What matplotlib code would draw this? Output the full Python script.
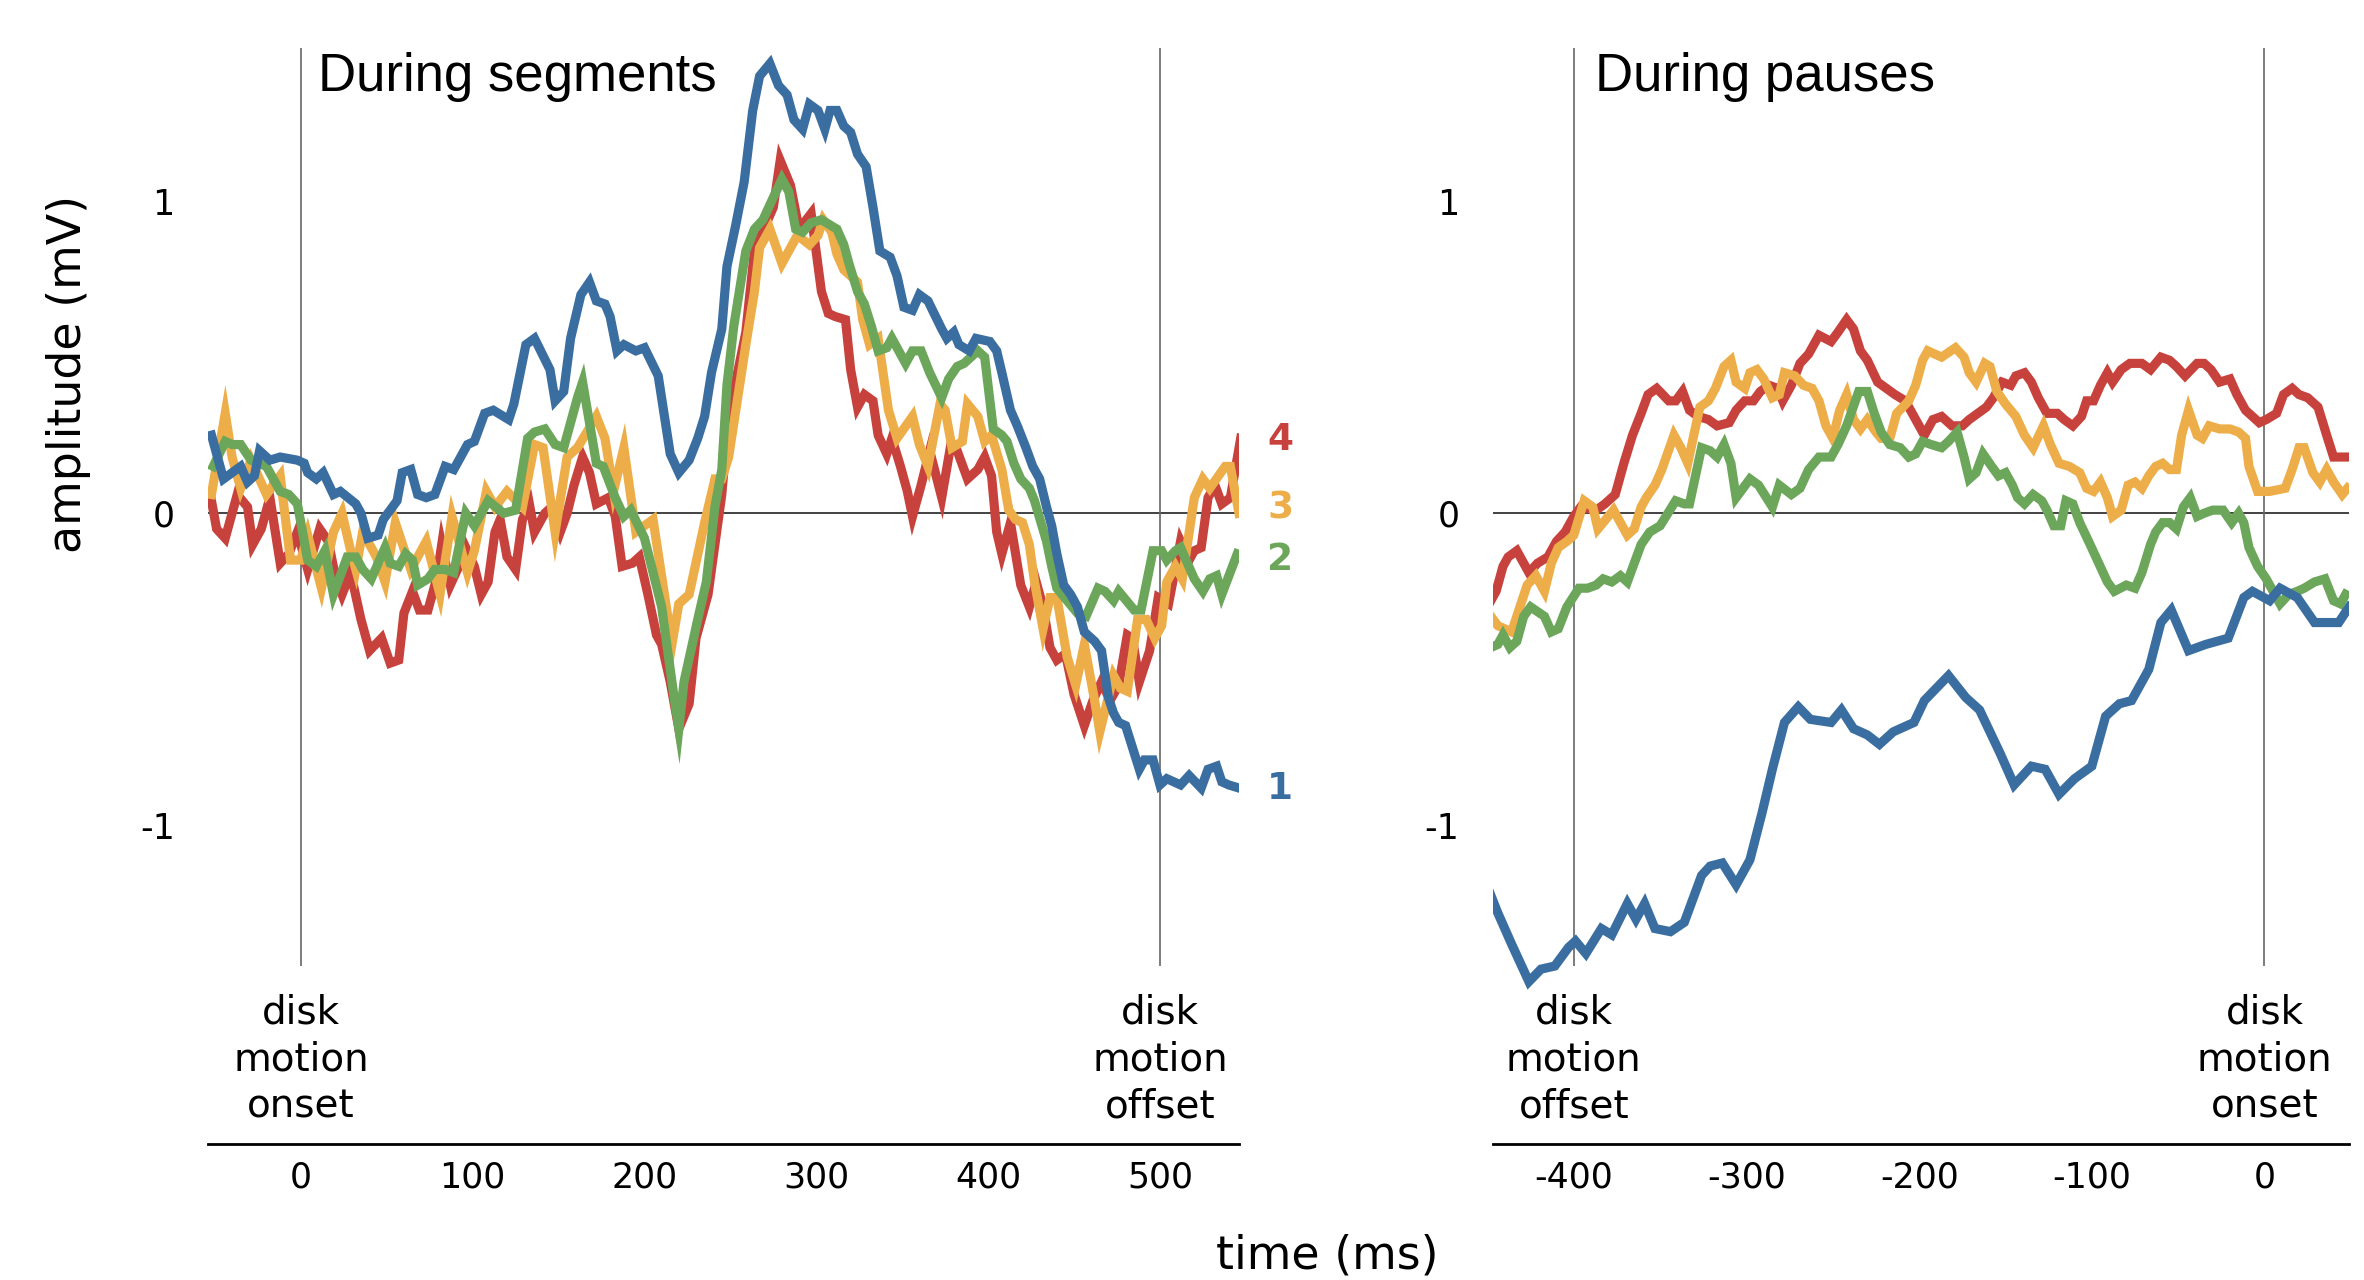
import matplotlib
matplotlib.use("Agg")
import matplotlib.pyplot as plt

plt.rcParams["font.family"] = "DejaVu Sans"

# colours of the four conditions (1 = blue ... 4 = red)
c_blue = "#3B6EA0"
c_green = "#6BA65A"
c_yellow = "#EDAE49"
c_red = "#C8423D"

# ---- During segments (time relative to disk motion onset, ms / mV) ----
seg1_t = [-52, -45, -35, -31, -27, -24, -18, -12, -2, 2, 4, 9, 13, 19, 23, 32, 35, 39, 45, 48,
          56, 59, 64, 68, 73, 78, 84, 89, 97, 101, 107, 112, 121, 124, 131, 136, 145, 148, 153, 157,
          163, 168, 172, 177, 180, 184, 188, 195, 200, 208, 215, 220, 226, 231, 235, 239, 245, 248, 253, 258,
          263, 267, 273, 278, 283, 287, 292, 296, 301, 305, 308, 312, 316, 320, 324, 329, 333, 337, 340, 343,
          347, 351, 356, 360, 365, 373, 376, 380, 383, 389, 393, 401, 405, 408, 413, 417, 422, 426, 430, 434,
          437, 440, 444, 448, 452, 456, 462, 466, 470, 473, 476, 480, 484, 488, 491, 496, 500, 504, 512, 517,
          524, 528, 533, 536, 540, 546]
seg1_v = [0.25, 0.11, 0.15, 0.10, 0.12, 0.20, 0.17, 0.18, 0.17, 0.16, 0.13, 0.11, 0.13, 0.06, 0.07, 0.03, 0.00, -0.08, -0.07, -0.02,
          0.04, 0.13, 0.14, 0.06, 0.05, 0.06, 0.15, 0.14, 0.22, 0.23, 0.32, 0.33, 0.30, 0.35, 0.54, 0.56, 0.46, 0.36, 0.39, 0.56,
          0.70, 0.74, 0.68, 0.67, 0.63, 0.52, 0.54, 0.52, 0.53, 0.44, 0.19, 0.13, 0.17, 0.24, 0.31, 0.45, 0.59, 0.79, 0.92, 1.06,
          1.29, 1.40, 1.44, 1.37, 1.34, 1.26, 1.23, 1.31, 1.29, 1.23, 1.29, 1.29, 1.24, 1.22, 1.15, 1.11, 0.98, 0.84, 0.83, 0.82,
          0.76, 0.66, 0.65, 0.70, 0.68, 0.59, 0.56, 0.58, 0.54, 0.52, 0.56, 0.55, 0.52, 0.45, 0.33, 0.28, 0.21, 0.15, 0.11, 0.02,
          -0.04, -0.13, -0.23, -0.26, -0.30, -0.38, -0.41, -0.44, -0.59, -0.64, -0.67, -0.68, -0.75, -0.82, -0.79, -0.79, -0.87, -0.85, -0.87, -0.84,
          -0.88, -0.82, -0.81, -0.86, -0.87, -0.88]

seg2_t = [-51, -44, -40, -35, -29, -20, -12, -7, -2, 1, 4, 9, 14, 19, 27, 32, 36, 41, 49, 52,
          57, 61, 65, 68, 74, 78, 84, 89, 96, 101, 109, 118, 125, 132, 136, 142, 148, 153, 161, 164,
          172, 176, 183, 188, 192, 200, 210, 217, 220, 223, 231, 236, 241, 245, 248, 252, 259, 264, 269, 274,
          280, 284, 288, 292, 297, 303, 312, 316, 319, 324, 328, 332, 336, 341, 344, 348, 352, 356, 361, 366,
          373, 377, 382, 386, 390, 394, 398, 403, 408, 411, 415, 419, 424, 427, 434, 437, 440, 446, 452, 457,
          464, 468, 473, 476, 485, 489, 496, 501, 504, 509, 512, 520, 525, 529, 533, 536, 545]
seg2_v = [0.15, 0.23, 0.22, 0.22, 0.17, 0.15, 0.07, 0.06, 0.03, -0.06, -0.15, -0.17, -0.12, -0.26, -0.14, -0.14, -0.18, -0.21, -0.11, -0.16,
          -0.17, -0.13, -0.15, -0.23, -0.21, -0.18, -0.18, -0.19, 0.00, -0.04, 0.04, 0.00, 0.01, 0.24, 0.26, 0.27, 0.22, 0.21, 0.37, 0.42,
          0.16, 0.15, 0.05, -0.01, 0.01, -0.08, -0.30, -0.58, -0.69, -0.54, -0.34, -0.22, 0.02, 0.14, 0.41, 0.60, 0.84, 0.91, 0.94, 1.00,
          1.07, 1.03, 0.91, 0.90, 0.93, 0.94, 0.91, 0.86, 0.80, 0.71, 0.67, 0.60, 0.52, 0.53, 0.56, 0.52, 0.48, 0.52, 0.52, 0.45,
          0.37, 0.43, 0.47, 0.48, 0.50, 0.52, 0.50, 0.27, 0.25, 0.23, 0.16, 0.11, 0.08, 0.04, -0.09, -0.17, -0.24, -0.28, -0.32, -0.33,
          -0.24, -0.25, -0.28, -0.25, -0.31, -0.31, -0.12, -0.12, -0.15, -0.12, -0.11, -0.21, -0.25, -0.21, -0.20, -0.26, -0.13]

seg3_t = [-52, -44, -40, -35, -29, -20, -12, -6, 0, 4, 12, 19, 24, 29, 32, 36, 44, 49, 55, 64,
          73, 81, 88, 97, 101, 108, 113, 120, 129, 136, 141, 148, 155, 161, 172, 177, 182, 188, 195, 205,
          216, 220, 226, 235, 241, 245, 249, 259, 264, 267, 273, 280, 289, 296, 301, 304, 309, 312, 316, 324,
          327, 331, 336, 342, 347, 356, 360, 365, 372, 375, 379, 385, 388, 394, 398, 402, 408, 412, 416, 420,
          424, 427, 432, 436, 440, 446, 451, 456, 462, 465, 473, 477, 481, 487, 492, 497, 501, 504, 509, 513,
          520, 525, 529, 538, 541, 546]
seg3_v = [0.06, 0.32, 0.18, 0.08, 0.17, 0.06, 0.12, -0.15, -0.15, -0.07, -0.24, -0.06, 0.00, -0.12, -0.18, -0.06, -0.14, -0.22, -0.03, -0.18,
          -0.09, -0.26, -0.01, -0.19, -0.12, 0.07, 0.02, 0.07, 0.02, 0.22, 0.21, -0.06, 0.18, 0.21, 0.31, 0.24, 0.07, 0.21, -0.06, -0.02,
          -0.42, -0.29, -0.26, -0.03, 0.11, 0.11, 0.18, 0.54, 0.71, 0.85, 0.91, 0.80, 0.89, 0.86, 0.89, 0.94, 0.90, 0.83, 0.78, 0.74,
          0.62, 0.54, 0.56, 0.33, 0.24, 0.31, 0.22, 0.15, 0.35, 0.33, 0.21, 0.23, 0.35, 0.31, 0.23, 0.25, 0.14, 0.01, -0.02, -0.03,
          -0.10, -0.22, -0.37, -0.27, -0.27, -0.46, -0.55, -0.42, -0.60, -0.70, -0.52, -0.56, -0.57, -0.34, -0.34, -0.40, -0.36, -0.22, -0.17, -0.21,
          0.05, 0.11, 0.08, 0.15, 0.15, 0.00]

seg4_t = [-52, -49, -44, -37, -31, -28, -23, -18, -12, -7, -2, 4, 11, 16, 20, 24, 29, 35, 40, 47,
          52, 57, 60, 65, 69, 74, 79, 82, 87, 92, 96, 101, 105, 109, 113, 116, 120, 125, 129, 133,
          136, 142, 146, 151, 155, 159, 164, 168, 172, 179, 183, 187, 193, 197, 202, 207, 210, 215, 220, 226,
          230, 237, 245, 249, 259, 264, 275, 279, 285, 290, 297, 303, 307, 311, 317, 320, 324, 328, 333, 336,
          341, 344, 349, 353, 356, 361, 366, 373, 378, 382, 388, 394, 398, 402, 405, 408, 413, 419, 424, 428,
          432, 436, 440, 445, 450, 456, 461, 466, 471, 476, 481, 484, 488, 494, 499, 505, 512, 517, 520, 524,
          528, 532, 536, 541, 547]
seg4_v = [0.04, -0.05, -0.08, 0.06, 0.02, -0.10, -0.05, 0.05, -0.16, -0.13, -0.06, -0.18, -0.05, -0.09, -0.20, -0.26, -0.19, -0.34, -0.44, -0.40,
          -0.48, -0.47, -0.32, -0.25, -0.31, -0.31, -0.21, -0.10, -0.23, -0.17, -0.11, -0.17, -0.26, -0.22, -0.06, -0.02, -0.14, -0.18, -0.02, 0.03,
          -0.06, 0.00, 0.02, -0.06, 0.00, 0.09, 0.18, 0.13, 0.03, 0.05, -0.01, -0.17, -0.16, -0.14, -0.26, -0.39, -0.42, -0.54, -0.69, -0.61,
          -0.40, -0.26, 0.06, 0.31, 0.58, 0.84, 0.98, 1.13, 1.05, 0.91, 0.96, 0.71, 0.64, 0.63, 0.62, 0.46, 0.34, 0.38, 0.36, 0.25,
          0.19, 0.24, 0.15, 0.07, -0.01, 0.09, 0.20, 0.05, 0.21, 0.20, 0.11, 0.14, 0.18, 0.12, -0.06, -0.13, -0.03, -0.23, -0.30, -0.22,
          -0.30, -0.43, -0.47, -0.45, -0.58, -0.68, -0.60, -0.54, -0.60, -0.55, -0.39, -0.40, -0.54, -0.44, -0.27, -0.29, -0.09, -0.15, -0.12, -0.11,
          0.05, 0.09, 0.03, 0.05, 0.24]

# ---- During pauses (time relative to next disk motion onset) ----
pau1_t = [-449, -444, -436, -426, -419, -411, -403, -399, -393, -384, -378, -369, -364, -359, -353, -344, -336, -326, -321, -314,
          -306, -298, -291, -285, -278, -270, -263, -251, -245, -238, -230, -223, -215, -203, -197, -183, -173, -165, -153, -145,
          -135, -127, -119, -110, -100, -92, -84, -77, -67, -60, -54, -44, -34, -21, -12, -7, 3, 9, 19, 29,
          36, 43, 49]
pau1_v = [-1.21, -1.28, -1.38, -1.50, -1.46, -1.45, -1.39, -1.37, -1.41, -1.33, -1.35, -1.25, -1.30, -1.25, -1.33, -1.34, -1.31, -1.16, -1.13, -1.12,
          -1.19, -1.11, -0.96, -0.82, -0.67, -0.62, -0.66, -0.67, -0.63, -0.69, -0.71, -0.74, -0.70, -0.67, -0.60, -0.52, -0.59, -0.63, -0.77, -0.87,
          -0.81, -0.82, -0.90, -0.85, -0.81, -0.65, -0.61, -0.60, -0.50, -0.35, -0.31, -0.44, -0.42, -0.40, -0.27, -0.25, -0.28, -0.24, -0.27, -0.35,
          -0.35, -0.35, -0.30]

pau2_t = [-448, -444, -441, -437, -433, -429, -425, -417, -413, -409, -404, -397, -392, -387, -383, -378, -373, -369, -361, -356,
          -350, -341, -336, -333, -326, -321, -317, -313, -309, -306, -298, -293, -285, -281, -274, -269, -264, -258, -251, -247,
          -242, -235, -230, -226, -222, -217, -211, -206, -202, -198, -193, -187, -183, -178, -174, -171, -167, -163, -158, -154,
          -150, -146, -143, -139, -134, -129, -126, -122, -118, -115, -111, -107, -101, -96, -91, -87, -80, -75, -71, -66,
          -63, -59, -55, -51, -47, -43, -39, -35, -30, -24, -19, -15, -12, -9, -4, 1, 5, 9, 14, 19,
          23, 29, 35, 40, 44, 47]
pau2_v = [-0.43, -0.42, -0.39, -0.43, -0.41, -0.33, -0.30, -0.33, -0.38, -0.37, -0.30, -0.24, -0.24, -0.23, -0.21, -0.22, -0.20, -0.22, -0.10, -0.06,
          -0.04, 0.04, 0.03, 0.03, 0.21, 0.20, 0.18, 0.22, 0.16, 0.05, 0.11, 0.09, 0.02, 0.09, 0.06, 0.08, 0.14, 0.18, 0.18, 0.22,
          0.28, 0.39, 0.39, 0.32, 0.26, 0.22, 0.21, 0.18, 0.19, 0.23, 0.22, 0.21, 0.23, 0.26, 0.18, 0.11, 0.13, 0.19, 0.15, 0.12,
          0.13, 0.09, 0.05, 0.03, 0.06, 0.04, 0.01, -0.04, -0.04, 0.04, 0.03, -0.03, -0.10, -0.16, -0.22, -0.25, -0.23, -0.24, -0.19, -0.10,
          -0.06, -0.03, -0.03, -0.05, 0.02, 0.05, -0.01, 0.00, 0.01, 0.01, -0.03, 0.00, -0.03, -0.11, -0.17, -0.21, -0.25, -0.29, -0.26, -0.25,
          -0.24, -0.22, -0.21, -0.28, -0.29, -0.26]

pau3_t = [-448, -444, -440, -436, -427, -422, -417, -413, -409, -404, -400, -394, -389, -386, -377, -369, -365, -361, -358, -353,
          -349, -342, -338, -334, -327, -322, -318, -313, -309, -306, -301, -298, -294, -290, -285, -281, -278, -272, -267, -262,
          -258, -254, -250, -246, -242, -238, -234, -230, -225, -222, -217, -213, -206, -202, -198, -195, -187, -179, -174, -171,
          -167, -162, -159, -155, -150, -144, -139, -134, -128, -124, -119, -113, -107, -103, -99, -95, -91, -88, -83, -79,
          -75, -71, -67, -63, -59, -55, -51, -48, -44, -39, -36, -32, -26, -20, -15, -11, -9, -4, 3, 12,
          16, 20, 23, 28, 32, 36, 40, 45, 48]
pau3_v = [-0.33, -0.36, -0.37, -0.38, -0.23, -0.20, -0.25, -0.16, -0.11, -0.09, -0.07, 0.04, 0.02, -0.05, 0.01, -0.07, -0.05, 0.02, 0.05, 0.09,
          0.14, 0.25, 0.21, 0.16, 0.34, 0.36, 0.40, 0.47, 0.49, 0.42, 0.40, 0.45, 0.46, 0.43, 0.37, 0.38, 0.45, 0.44, 0.41, 0.40,
          0.36, 0.28, 0.24, 0.33, 0.38, 0.30, 0.27, 0.30, 0.26, 0.24, 0.24, 0.32, 0.36, 0.41, 0.49, 0.52, 0.50, 0.53, 0.50, 0.45,
          0.42, 0.48, 0.47, 0.39, 0.35, 0.31, 0.25, 0.21, 0.28, 0.22, 0.16, 0.15, 0.13, 0.08, 0.07, 0.10, 0.05, -0.01, 0.01, 0.09,
          0.10, 0.08, 0.12, 0.15, 0.16, 0.14, 0.14, 0.25, 0.33, 0.25, 0.24, 0.28, 0.27, 0.27, 0.26, 0.24, 0.15, 0.07, 0.07, 0.08,
          0.14, 0.21, 0.21, 0.13, 0.10, 0.14, 0.10, 0.06, 0.08]

pau4_t = [-448, -445, -441, -438, -433, -426, -421, -415, -410, -405, -400, -396, -387, -382, -376, -371, -366, -361, -357, -352,
          -345, -341, -337, -333, -328, -322, -317, -310, -306, -301, -296, -292, -287, -282, -279, -274, -269, -264, -258, -251,
          -247, -242, -238, -234, -230, -224, -219, -214, -208, -205, -200, -197, -192, -187, -181, -175, -171, -166, -161, -157,
          -152, -147, -144, -139, -135, -131, -126, -120, -116, -111, -106, -103, -99, -95, -91, -88, -83, -78, -71, -66,
          -60, -55, -51, -46, -39, -35, -31, -26, -20, -16, -11, -7, -3, 1, 7, 11, 16, 20, 25, 31,
          36, 40, 47]
pau4_v = [-0.28, -0.25, -0.17, -0.14, -0.12, -0.19, -0.16, -0.14, -0.09, -0.06, -0.01, 0.02, 0.01, 0.03, 0.06, 0.16, 0.25, 0.32, 0.38, 0.40,
          0.36, 0.36, 0.39, 0.33, 0.31, 0.30, 0.28, 0.29, 0.33, 0.36, 0.36, 0.39, 0.41, 0.40, 0.36, 0.41, 0.48, 0.51, 0.57, 0.55,
          0.58, 0.62, 0.59, 0.52, 0.49, 0.42, 0.40, 0.38, 0.36, 0.33, 0.28, 0.25, 0.30, 0.31, 0.28, 0.28, 0.30, 0.32, 0.34, 0.37,
          0.42, 0.41, 0.44, 0.45, 0.42, 0.37, 0.32, 0.32, 0.30, 0.28, 0.31, 0.36, 0.36, 0.41, 0.45, 0.42, 0.46, 0.48, 0.48, 0.46,
          0.50, 0.49, 0.47, 0.44, 0.48, 0.48, 0.46, 0.42, 0.43, 0.38, 0.33, 0.31, 0.29, 0.30, 0.32, 0.38, 0.40, 0.38, 0.37, 0.34,
          0.25, 0.18, 0.18]

seg_ticks = [0, 100, 200, 300, 400, 500]
pau_ticks = [-400, -300, -200, -100, 0]

fig = plt.figure(figsize=(11.82, 6.4), dpi=200)
ax1 = fig.add_axes([0.088, 0.10625, 0.4361, 0.85625])
ax2 = fig.add_axes([0.6314, 0.10625, 0.3623, 0.85625])

LW = 3.3
ylo, yhi = -2.02, 1.49


def style(ax, xlim, ticks, minor, events, names, title, title_x):
    ax.set_xlim(*xlim)
    ax.set_ylim(ylo, yhi)
    for s in ["top", "right", "left"]:
        ax.spines[s].set_visible(False)
    ax.spines["bottom"].set_linewidth(1.0)
    ax.set_yticks([-1, 0, 1])
    ax.set_yticklabels(["-1", "0", "1"])
    ax.tick_params(axis="y", length=0, pad=12, labelsize=12.5)
    ax.set_xticks(ticks)
    ax.set_xticklabels([str(t) for t in ticks])
    ax.tick_params(axis="x", which="major", length=0, pad=6, labelsize=12.5)
    ax.set_xticks(minor, minor=True)
    ax.tick_params(axis="x", which="minor", direction="in", length=6, width=0.6)
    ax.axhline(0, color="#222222", lw=0.6, zorder=1)
    for ev, nm in zip(events, names):
        ax.vlines(ev, -1.45, yhi, color="#666666", lw=0.6, zorder=1)
        ax.text(ev, -1.75, "disk\nmotion\n" + nm, ha="center", va="center",
                fontsize=14, linespacing=1.3)
    ax.text(title_x, 1.353, title, fontsize=19, family="Liberation Sans",
            ha="left", va="baseline")


style(ax1, (-54, 546), seg_ticks, [100, 200, 300, 400], [0, 500], ["onset", "offset"],
      "During segments", 10)
style(ax2, (-447, 49), pau_ticks, [-300, -200, -100], [-400, 0], ["offset", "onset"],
      "During pauses", -388)

kw = dict(lw=LW, solid_joinstyle="miter", zorder=3)
ax1.plot(seg4_t, seg4_v, color=c_red, **kw)
ax1.plot(seg3_t, seg3_v, color=c_yellow, **kw)
ax1.plot(seg2_t, seg2_v, color=c_green, **kw)
ax1.plot(seg1_t, seg1_v, color=c_blue, **kw)

ax2.plot(pau4_t, pau4_v, color=c_red, **kw)
ax2.plot(pau3_t, pau3_v, color=c_yellow, **kw)
ax2.plot(pau2_t, pau2_v, color=c_green, **kw)
ax2.plot(pau1_t, pau1_v, color=c_blue, **kw)

# condition numbers at the end of the segment traces
for lab, yy, col in [("4", 0.233, c_red), ("3", 0.015, c_yellow),
                     ("2", -0.149, c_green), ("1", -0.884, c_blue)]:
    ax1.text(570, yy, lab, color=col, fontsize=13.5, fontweight="bold",
             ha="center", va="center", clip_on=False)

fig.text(0.0288, 0.708, "amplitude (mV)", rotation=90, fontsize=16.5,
         ha="center", va="center")
fig.text(0.5613, 0.019, "time (ms)", fontsize=16.5, ha="center", va="center")

fig.savefig("out.png", dpi=200)
